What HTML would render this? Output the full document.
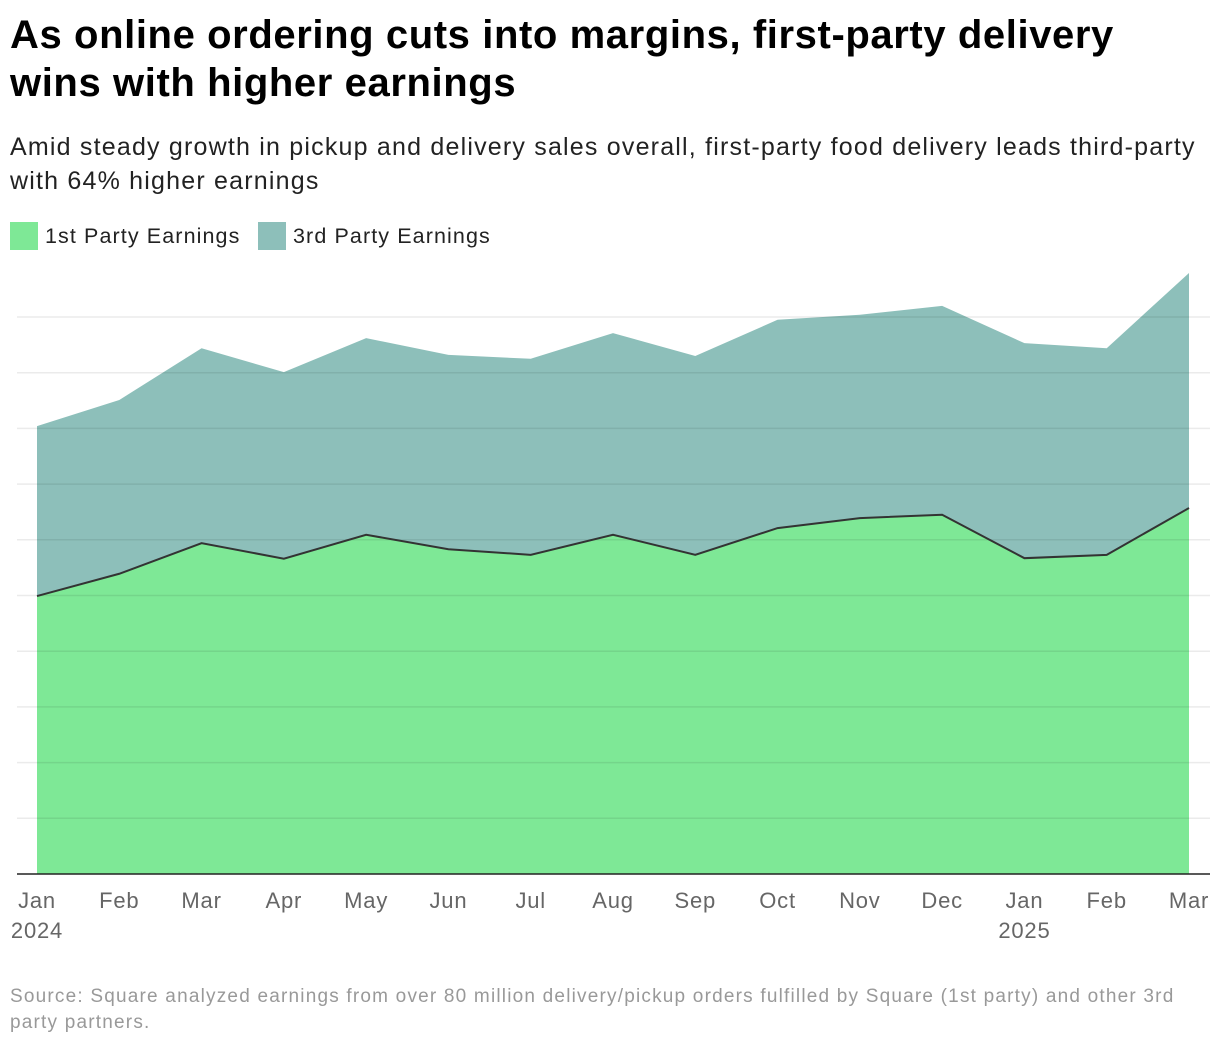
<!DOCTYPE html>
<html><head><meta charset="utf-8"><style>
body{margin:0;background:#fff;font-family:"Liberation Sans",sans-serif;}
#wrap{position:relative;width:1220px;height:1046px;overflow:hidden;}
h1{position:absolute;left:10px;top:11px;margin:0;font-size:40px;line-height:48px;font-weight:bold;color:#000;letter-spacing:0.6px;white-space:nowrap;}
.sub{position:absolute;left:10px;top:130px;font-size:25px;line-height:34px;color:#222;letter-spacing:1.2px;white-space:nowrap;}
.leg{position:absolute;top:222px;height:28px;display:flex;align-items:center;font-size:21.5px;color:#222;letter-spacing:1.1px;}
.sw{width:28px;height:28px;margin-right:7px;}
.src{position:absolute;left:10px;top:984px;font-size:19px;line-height:26px;color:#999;letter-spacing:1.2px;white-space:nowrap;}
svg{position:absolute;left:0;top:0;}
</style></head><body><div id="wrap">
<h1>As online ordering cuts into margins, first-party delivery<br>wins with higher earnings</h1>
<div class="sub">Amid steady growth in pickup and delivery sales overall, first-party food delivery leads third-party<br>with 64% higher earnings</div>
<div class="leg" style="left:10px"><div class="sw" style="background:#7ee896"></div>1st Party Earnings</div>
<div class="leg" style="left:258px"><div class="sw" style="background:#8dbfba"></div>3rd Party Earnings</div>
<svg id="chart" width="1220" height="1046"></svg>
<div class="src">Source: Square analyzed earnings from over 80 million delivery/pickup orders fulfilled by Square (1st party) and other 3rd<br>party partners.</div>
</div>
<script>
const months=["Jan","Feb","Mar","Apr","May","Jun","Jul","Aug","Sep","Oct","Nov","Dec","Jan","Feb","Mar"];
const years=["2024","","","","","","","","","","","","2025","",""];
const firstParty=[4.99,5.39,5.94,5.66,6.09,5.83,5.73,6.09,5.73,6.21,6.39,6.45,5.67,5.73,6.57];
const thirdParty=[3.05,3.12,3.50,3.35,3.53,3.49,3.52,3.62,3.57,3.74,3.65,3.75,3.86,3.71,4.22];
const gridTicks=[0,1,2,3,4,5,6,7,8,9,10];
const NS="http://www.w3.org/2000/svg";
const svg=document.getElementById('chart');
const x=i=>37+i*(1189-37)/(months.length-1);
const y=v=>874-v*55.7;
function mk(t,a){const e=document.createElementNS(NS,t);for(const k in a)e.setAttribute(k,a[k]);svg.appendChild(e);return e;}
let tot=firstParty.map((v,i)=>v+thirdParty[i]);
let p1=firstParty.map((v,i)=>x(i)+','+y(v));
let pt=tot.map((v,i)=>x(i)+','+y(v));
let a3=mk('polygon',{points:pt.concat(p1.slice().reverse()).join(' '),fill:'#8dbfba'});


let a1=mk('polygon',{points:p1.concat([x(months.length-1)+','+y(0),x(0)+','+y(0)]).join(' '),fill:'#7ee896'});


gridTicks.forEach(t=>{if(t===0)return;const g=mk('line',{x1:17,x2:1210,y1:y(t),y2:y(t),stroke:'rgba(0,0,0,0.08)','stroke-width':1.5});

});
let ln=mk('polyline',{points:p1.join(' '),fill:'none',stroke:'#333','stroke-width':2});


let ax=mk('line',{x1:17,x2:1210,y1:y(0),y2:y(0),stroke:'#222','stroke-width':1.5});


months.forEach((m,i)=>{let xx=x(i);
const t=mk('text',{x:xx,y:908,'text-anchor':'middle','font-size':22,'letter-spacing':0.8,fill:'#666','font-family':'Liberation Sans, sans-serif'});t.textContent=m;


if(years[i]){const yt=mk('text',{x:xx,y:938,'text-anchor':'middle','font-size':22,'letter-spacing':0.8,fill:'#666','font-family':'Liberation Sans, sans-serif'});yt.textContent=years[i];

}});
</script></body></html>
